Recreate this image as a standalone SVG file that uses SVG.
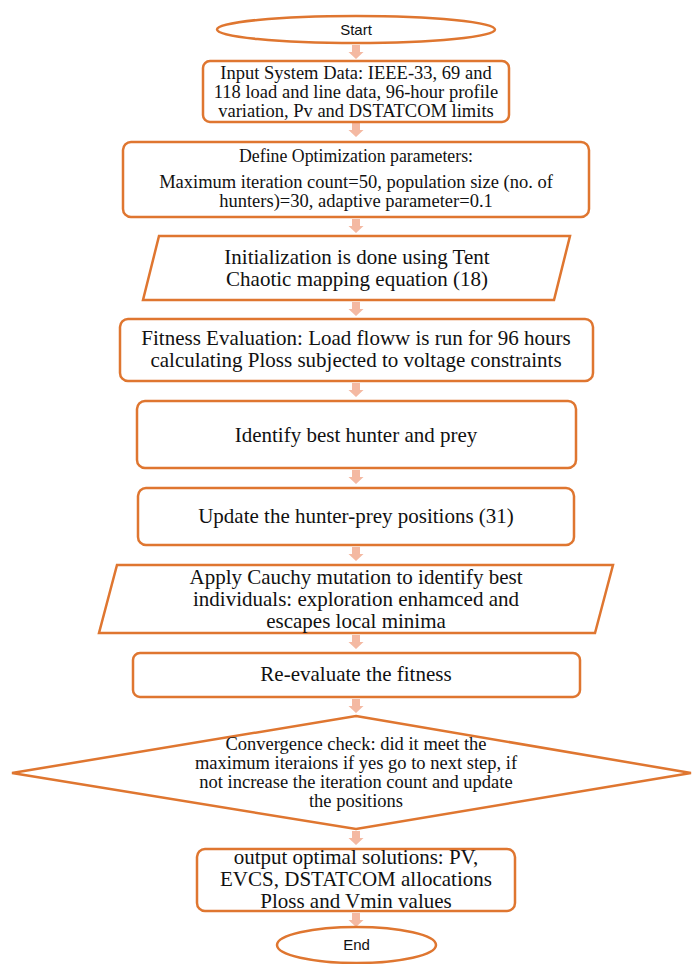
<svg xmlns="http://www.w3.org/2000/svg" xmlns:xlink="http://www.w3.org/1999/xlink" width="692" height="964" viewBox="0 0 692 964">
<style>
.sh{fill:#fff;stroke:#DF7630;stroke-width:2.5;stroke-linejoin:miter}
.t{font-family:"Liberation Serif","Times New Roman",serif;fill:#111;text-anchor:middle}
.s{font-family:"Liberation Sans",Arial,sans-serif;fill:#111;text-anchor:middle;font-size:15px}
.f18{font-size:18.5px}
.f21{font-size:21px}
.ar{fill:#F4B9A2}
</style>
<defs>
<path id="arrow" class="ar" d="M-4,0 H4 V7 H7.5 L0,14 L-7.5,7 H-4 Z"/>
</defs>
<rect width="692" height="964" fill="#fff"/>
<g id="connectors">
<use xlink:href="#arrow" x="356" y="45"/>
<use xlink:href="#arrow" x="356" y="123"/>
<use xlink:href="#arrow" x="356" y="219"/>
<use xlink:href="#arrow" x="356" y="302"/>
<use xlink:href="#arrow" x="356" y="383"/>
<use xlink:href="#arrow" x="356" y="470"/>
<use xlink:href="#arrow" x="356" y="547"/>
<use xlink:href="#arrow" x="356" y="635"/>
<use xlink:href="#arrow" x="356" y="699"/>
<use xlink:href="#arrow" x="356" y="831"/>
<use xlink:href="#arrow" x="356" y="913"/>
</g>
<g id="start">
<ellipse class="sh" cx="356" cy="29.5" rx="139" ry="13.5"/>
<text class="s" x="356" y="35">Start</text>
</g>
<g id="input">
<rect class="sh" x="203" y="61" width="306" height="61" rx="7"/>
<text class="t f18" x="356" y="79">Input System Data: IEEE-33, 69 and</text>
<text class="t f18" x="356" y="98">118 load and line data, 96-hour profile</text>
<text class="t f18" x="356" y="117">variation, Pv and DSTATCOM limits</text>
</g>
<g id="define">
<rect class="sh" x="123" y="142" width="466" height="75" rx="8"/>
<text class="t" style="font-size:17.8px" x="356" y="162">Define Optimization parameters:</text>
<text class="t f18" x="356" y="188">Maximum iteration count=50, population size (no. of</text>
<text class="t f18" x="356" y="207">hunters)=30, adaptive parameter=0.1</text>
</g>
<g id="init">
<polygon class="sh" points="159,236 570,236 554,300 143,300"/>
<text class="t f21" x="357" y="264">Initialization is done using Tent</text>
<text class="t f21" x="357" y="286">Chaotic mapping equation (18)</text>
</g>
<g id="fitness">
<rect class="sh" x="120" y="319" width="473" height="62" rx="8"/>
<text class="t f21" x="356" y="345">Fitness Evaluation: Load floww is run for 96 hours</text>
<text class="t f21" x="356" y="367">calculating Ploss subjected to voltage constraints</text>
</g>
<g id="identify">
<rect class="sh" x="137" y="401" width="439" height="67" rx="8"/>
<text class="t f21" x="356" y="442">Identify best hunter and prey</text>
</g>
<g id="update">
<rect class="sh" x="138" y="488" width="436" height="57" rx="8"/>
<text class="t f21" x="356" y="523">Update the hunter-prey positions (31)</text>
</g>
<g id="cauchy">
<polygon class="sh" points="117,565 613,565 595,633 99,633"/>
<text class="t f21" x="356" y="584">Apply Cauchy mutation to identify best</text>
<text class="t f21" x="356" y="606">individuals: exploration enhamced and</text>
<text class="t f21" x="356" y="628">escapes local minima</text>
</g>
<g id="reeval">
<rect class="sh" x="133" y="653" width="447" height="44" rx="7"/>
<text class="t f21" x="356" y="681">Re-evaluate the fitness</text>
</g>
<g id="convergence">
<polygon class="sh" points="356,716 691,773 356,829 12,773"/>
<text class="t f18" x="356" y="750">Convergence check: did it meet the</text>
<text class="t f18" x="356" y="769">maximum iteraions if yes go to next step, if</text>
<text class="t f18" x="356" y="788">not increase the iteration count and update</text>
<text class="t f18" x="356" y="807">the positions</text>
</g>
<g id="output">
<rect class="sh" x="197" y="849" width="318" height="62" rx="8"/>
<text class="t f21" x="356" y="864">output optimal solutions: PV,</text>
<text class="t f21" x="356" y="886">EVCS, DSTATCOM allocations</text>
<text class="t f21" x="356" y="908">Ploss and Vmin values</text>
</g>
<g id="end">
<ellipse class="sh" cx="356.5" cy="945" rx="79.5" ry="18"/>
<text class="s" x="356.5" y="950">End</text>
</g>
</svg>
